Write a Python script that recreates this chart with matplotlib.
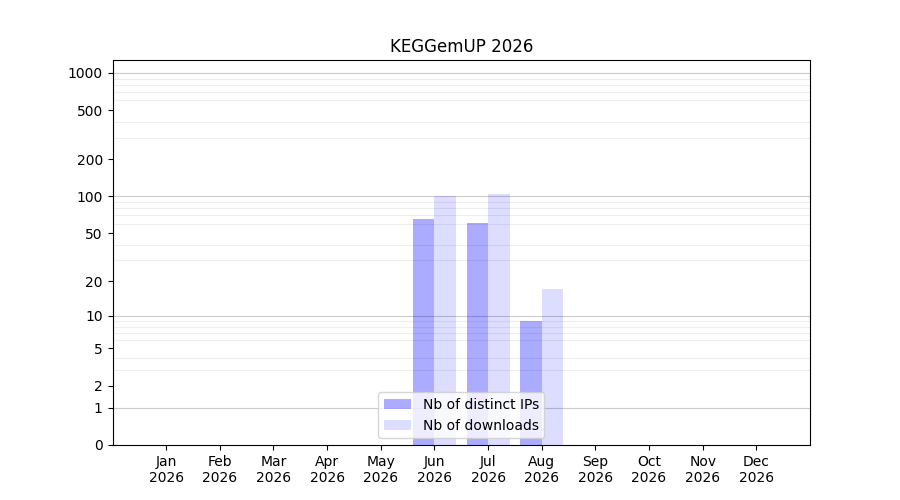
import numpy as np
import matplotlib
matplotlib.use('Agg')
import matplotlib.pyplot as plt

months = ['Jan', 'Feb', 'Mar', 'Apr', 'May', 'Jun', 'Jul', 'Aug', 'Sep', 'Oct', 'Nov', 'Dec']
year = 2026
distinct_ips = [0, 0, 0, 0, 0, 66, 61, 9, 0, 0, 0, 0]
downloads = [0, 0, 0, 0, 0, 100, 104, 17, 0, 0, 0, 0]
ytick_values = [0, 1, 2, 5, 10, 20, 50, 100, 200, 500, 1000]

def fwd(x):
    return np.log10(1 + np.asarray(x, dtype=float))

def inv(y):
    return 10 ** np.asarray(y, dtype=float) - 1

fig, ax = plt.subplots(figsize=(9, 5), dpi=100)
x = np.arange(1, len(months) + 1)
width = 0.4

ax.set_yscale('function', functions=(fwd, inv))
ax.bar(x, distinct_ips, width=-width, align='edge', color='blue', alpha=0.33,
       label='Nb of distinct IPs')
ax.bar(x, downloads, width=width, align='edge', color='blue', alpha=0.133,
       label='Nb of downloads')

ax.set_ylim(0, 1270)
ax.set_xlim(0, 13)
ax.set_yticks(ytick_values)
ax.set_yticklabels([str(v) for v in ytick_values])
minor = [m * 10 ** e for e in range(0, 3) for m in range(2, 10)]
ax.set_yticks(minor, minor=True)
ax.tick_params(axis='y', which='minor', length=0)
ax.grid(True, axis='y', which='minor', color='#eeeeee', linewidth=0.8)
for v in [1, 10, 100, 1000]:
    ax.axhline(v, color='#cccccc', linewidth=0.8, zorder=0.5)
ax.set_axisbelow(True)

ax.set_xticks(x)
ax.set_xticklabels([f'{m}\n{year}' for m in months])
ax.set_title(f'KEGGemUP {year}')
ax.legend(loc='lower center')

fig.savefig('out.png')
